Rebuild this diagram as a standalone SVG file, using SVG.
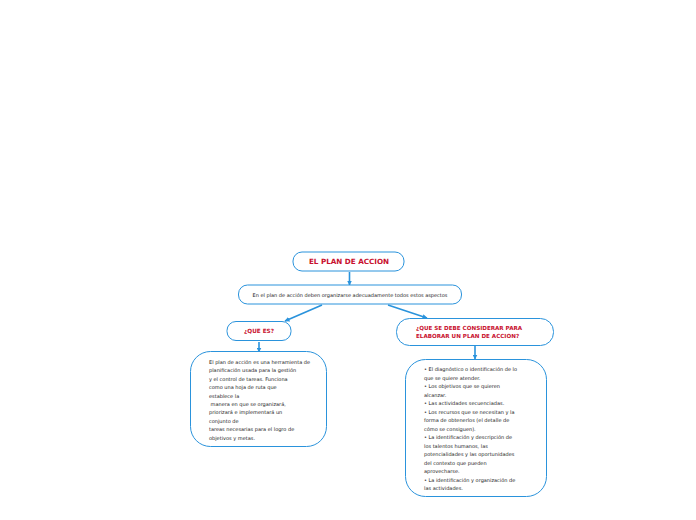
<svg xmlns="http://www.w3.org/2000/svg" width="696" height="520" viewBox="0 0 696 520">
<style>
.n{fill:#fff;stroke:#2a93dc;stroke-width:1}
.c{stroke:#2a93dc;stroke-width:1.6;fill:none}
.t{font-family:"DejaVu Sans",Verdana,sans-serif;font-size:5px;fill:#222}
.h{font-family:"DejaVu Sans",Verdana,sans-serif;font-weight:bold;fill:#c8102e}
</style>
<defs>
<marker id="a" viewBox="0 0 10 10" refX="9" refY="5" markerWidth="5" markerHeight="5" orient="auto" markerUnits="userSpaceOnUse"><path d="M0,0L10,5L0,10z" fill="#2a93dc"/></marker>
</defs>
<rect width="696" height="520" fill="#fff"/>
<g id="connectors">
<line class="c" x1="349.5" y1="272" x2="349.5" y2="285" marker-end="url(#a)"/>
<line class="c" x1="322" y1="305" x2="285" y2="321" marker-end="url(#a)"/>
<line class="c" x1="388" y1="305" x2="427" y2="318" marker-end="url(#a)"/>
<line class="c" x1="259" y1="342" x2="259" y2="352" marker-end="url(#a)"/>
<line class="c" x1="475" y1="346" x2="475" y2="359" marker-end="url(#a)"/>
</g>
<g id="root">
<rect class="n" x="293" y="252" width="111" height="19" rx="9"/>
<text class="h" x="349" y="264" font-size="7.2" text-anchor="middle">EL PLAN DE ACCION</text>
</g>
<g id="aspectos">
<rect class="n" x="238.5" y="285" width="223" height="19" rx="9"/>
<text class="t" x="350" y="297" text-anchor="middle">En el plan de acción deben organizarse adecuadamente todos estos aspectos</text>
</g>
<g id="quees">
<rect class="n" x="227" y="321.5" width="64" height="19" rx="9"/>
<text class="h" x="259" y="333" font-size="5.7" text-anchor="middle">¿QUE ES?</text>
</g>
<g id="quees-def">
<rect class="n" x="190.5" y="351.5" width="136" height="95" rx="20"/>
<text class="t"><tspan x="209" y="364">El plan de acción es una herramienta de</tspan><tspan x="209" y="372.4">planificación usada para la gestión</tspan><tspan x="209" y="380.8">y el control de tareas. Funciona</tspan><tspan x="209" y="389.2">como una hoja de ruta que</tspan><tspan x="209" y="397.6">establece la</tspan><tspan x="209" y="406" xml:space="preserve"> manera en que se organizará,</tspan><tspan x="209" y="414.4">priorizará e implementará un</tspan><tspan x="209" y="422.8">conjunto de</tspan><tspan x="209" y="431.2">tareas necesarias para el logro de</tspan><tspan x="209" y="439.6">objetivos y metas.</tspan></text>
</g>
<g id="considerar">
<rect class="n" x="396.5" y="318.5" width="157" height="27" rx="13"/>
<text class="h" font-size="5.6"><tspan x="416" y="330">¿QUE SE DEBE CONSIDERAR PARA</tspan><tspan x="416" y="338">ELABORAR UN PLAN DE ACCION?</tspan></text>
</g>
<g id="considerar-list">
<rect class="n" x="405.5" y="359.5" width="141" height="137" rx="20"/>
<text class="t"><tspan x="424" y="371">• El diagnóstico o identificación de lo</tspan><tspan x="424" y="379.5">que se quiere atender.</tspan><tspan x="424" y="388">• Los objetivos que se quieren</tspan><tspan x="424" y="396.5">alcanzar.</tspan><tspan x="424" y="405">• Las actividades secuenciadas.</tspan><tspan x="424" y="413.5">• Los recursos que se necesitan y la</tspan><tspan x="424" y="422">forma de obtenerlos (el detalle de</tspan><tspan x="424" y="430.5">cómo se consiguen).</tspan><tspan x="424" y="439">• La identificación y descripción de</tspan><tspan x="424" y="447.5">los talentos humanos, las</tspan><tspan x="424" y="456">potencialidades y las oportunidades</tspan><tspan x="424" y="464.5">del contexto que pueden</tspan><tspan x="424" y="473">aprovecharse.</tspan><tspan x="424" y="481.5">• La identificación y organización de</tspan><tspan x="424" y="490">las actividades.</tspan></text>
</g>
</svg>
